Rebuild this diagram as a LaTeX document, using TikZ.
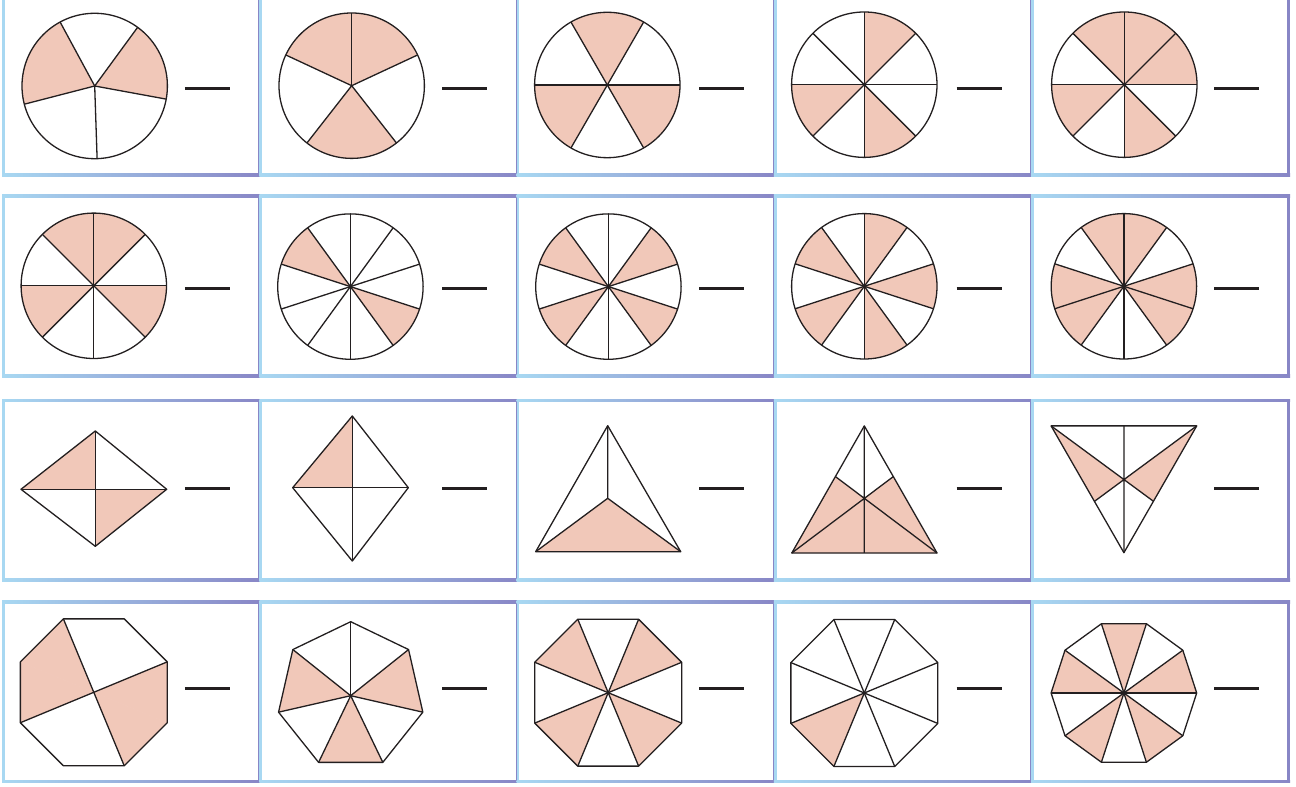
\documentclass[tikz,border=0pt]{standalone}
\usetikzlibrary{calc}
\definecolor{rimblue}{RGB}{168,216,242}
\definecolor{rimviolet}{RGB}{136,134,198}
\definecolor{crayon}{RGB}{241,200,185}
\definecolor{ink}{RGB}{35,31,32}

% card frame: left x, top y, y of the answer line
\newcommand{\card}[3]{%
  \shade[left color=rimblue, right color=rimviolet] ({#1-1.3},{#2-1.3}) rectangle ({#1+257.5},{#2+1.3});
  \shade[left color=rimblue, right color=rimviolet] ({#1-1.3},{#2-180.8}) rectangle ({#1+257.5},{#2-178.2});
  \fill[rimblue] ({#1-1.3},{#2-179.5}) rectangle ({#1+1.3},#2);
  \fill[rimviolet] ({#1+254.9},{#2-179.5}) rectangle ({#1+257.5},#2);
  \draw[answer] ({#1+181.5},#3) -- ({#1+226.5},#3);
}

% circle cut into sectors: centre, spoke angles, shaded from/to
\newcommand{\pie}[3]{%
  \begin{scope}[shift={(#1)}]
    \foreach \a/\b in {#3}
      \fill[wedge] (0,0) -- (\a:72.7) arc[start angle=\a, end angle=\b, radius=72.7] -- cycle;
    \foreach \a in {#2}
      \draw[ink line] (0,0) -- (\a:72.7);
    \draw[ink line] (0,0) circle[radius=72.7];
  \end{scope}}

% regular polygon: centre, radius, sides, first angle, spokes, shaded sectors
\newcommand{\wheel}[6]{%
  \begin{scope}[shift={(#1)}]
    \foreach \k in {#6}
      \fill[wedge] (0,0) -- ({#4+360*\k/#3}:#2) -- ({#4+360*(\k+1)/#3}:#2) -- cycle;
    \foreach \k in {#5}
      \draw[ink line] (0,0) -- ({#4+360*\k/#3}:#2);
    \draw[ink line] (#4:#2) \foreach \k in {1,...,#3} { -- ({#4+360*\k/#3}:#2) } -- cycle;
  \end{scope}}

\begin{document}
\begin{tikzpicture}[x=1pt, y=1pt,
    ink line/.style={draw=ink, line width=1.3pt, line join=round},
    wedge/.style={fill=crayon, draw=crayon, line width=0.4pt},
    answer/.style={draw=ink, line width=3.2pt}]
  \useasboundingbox (0,0) rectangle (1296,787);
  \fill[white] (0,0) rectangle (1296,787);

  \foreach \c in {0,...,4}
    \foreach \t/\d in {791.5/698.3, 590.7/498.7, 386.5/298.7, 184.8/98.7}
      \card{3.3+257.3*\c}{\t}{\d};

  % first row
  \pie{94.7,701}{118.4,53.8,-10.4,-88.1,194.5}{118.4/194.5, -10.4/53.8}
  \pie{351.7,701.3}{90,25,-52,-128,155}{25/90, 90/155, 232/308}
  \pie{607.3,702}{0,60,...,300}{60/120, 180/240, 300/360}
  \pie{864.3,702.3}{0,45,...,315}{45/90, 180/225, 270/315}
  \pie{1124.3,702.3}{0,45,...,315}{0/45, 45/90, 90/135, 180/225, 270/315}

  % second row
  \pie{93.8,501.2}{0,45,...,315}{45/90, 90/135, 180/225, 315/360}
  \pie{350.4,500.4}{18,54,...,342}{126/162, 306/342}
  \pie{608.4,500.4}{18,54,...,342}{18/54, 126/162, 198/234, 306/342}
  \pie{864.3,500.7}{18,54,...,342}{54/90, 126/162, -18/18, 198/234, 270/306}
  \pie{1123.9,500.7}{18,54,...,342}{54/90, 90/126, 162/198, 198/234, -18/18, -54/-18}

  % third row
  \coordinate (kL) at (21,297.7);
  \coordinate (kT) at (95.3,356);
  \coordinate (kR) at (166.7,297.7);
  \coordinate (kB) at (95.3,240.7);
  \coordinate (kC) at (95.3,297.7);
  \fill[wedge] (kL) -- (kT) -- (kC) -- cycle;
  \fill[wedge] (kC) -- (kR) -- (kB) -- cycle;
  \draw[ink line] (kL) -- (kT) -- (kR) -- (kB) -- cycle;
  \draw[ink line] (kL) -- (kR) (kT) -- (kB);

  \coordinate (rT) at (352.3,371);
  \coordinate (rL) at (292.7,299.3);
  \coordinate (rR) at (408.3,299.3);
  \coordinate (rB) at (352.3,226);
  \coordinate (rC) at (352.3,299.3);
  \fill[wedge] (rL) -- (rT) -- (rC) -- cycle;
  \draw[ink line] (rL) -- (rT) -- (rR) -- (rB) -- cycle;
  \draw[ink line] (rL) -- (rR) (rT) -- (rB);

  \coordinate (tA) at (607.7,361.3);
  \coordinate (tL) at (535.7,235.3);
  \coordinate (tR) at (680.7,235.3);
  \coordinate (tP) at (607.7,288.7);
  \fill[wedge] (tL) -- (tP) -- (tR) -- cycle;
  \draw[ink line] (tL) -- (tA) -- (tR) -- cycle;
  \draw[ink line] (tA) -- (tP) (tL) -- (tP) -- (tR);

  \coordinate (uA) at (864.3,361.1);
  \coordinate (uL) at (791.8,234);
  \coordinate (uR) at (937,234);
  \coordinate (uP) at (864.3,288.6);
  \coordinate (uM) at (864.3,234);
  \coordinate (uLp) at (intersection of uR--uP and uA--uL);
  \coordinate (uRp) at (intersection of uL--uP and uA--uR);
  \fill[wedge] (uL) -- (uLp) -- (uP) -- (uRp) -- (uR) -- cycle;
  \draw[ink line] (uL) -- (uA) -- (uR) -- cycle;
  \draw[ink line] (uA) -- (uM) (uL) -- (uRp) (uR) -- (uLp);

  \coordinate (vL) at (1051.1,361.1);
  \coordinate (vR) at (1196.7,361.1);
  \coordinate (vB) at (1123.9,234.3);
  \coordinate (vM) at (1123.9,361.1);
  \coordinate (vP) at (1123.9,307.4);
  \coordinate (vRp) at (intersection of vL--vP and vR--vB);
  \coordinate (vLp) at (intersection of vR--vP and vL--vB);
  \fill[wedge] (vL) -- (vP) -- (vLp) -- cycle;
  \fill[wedge] (vR) -- (vP) -- (vRp) -- cycle;
  \draw[ink line] (vL) -- (vR) -- (vB) -- cycle;
  \draw[ink line] (vM) -- (vB) (vL) -- (vRp) (vR) -- (vLp);

  % fourth row
  \wheel{93.8,94.7}{79.5}{8}{22.5}{2,4,6,8}{2,3,6,7}
  \wheel{350.7,91.3}{74}{7}{90}{1,...,7}{1,3,5}
  \wheel{608.2,94.3}{79.5}{8}{22.5}{1,...,8}{0,2,4,6}
  \wheel{864.3,94}{79.5}{8}{22.5}{1,...,8}{4}
  \wheel{1123.9,94}{72.8}{10}{0}{1,...,10}{0,2,4,6,8}
\end{tikzpicture}
\end{document}
